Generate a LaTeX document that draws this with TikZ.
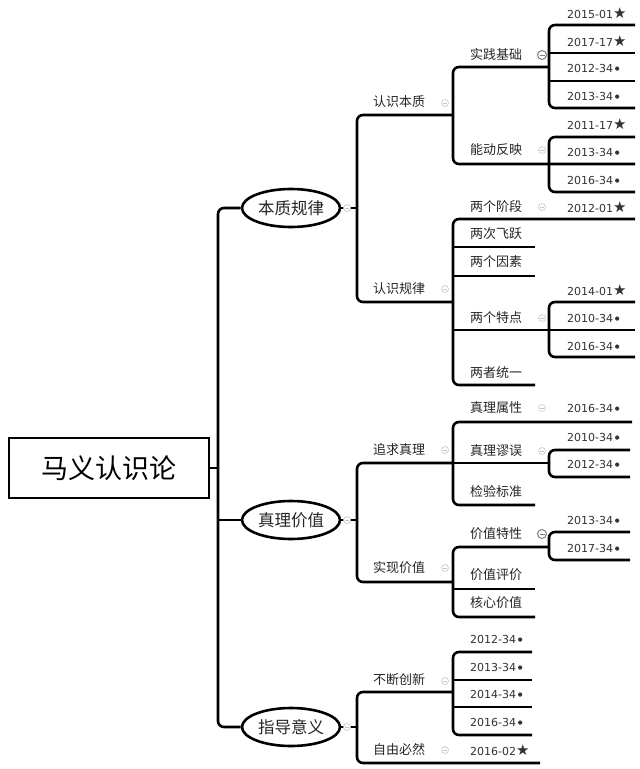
\documentclass[tikz,border=0pt]{standalone}
\usepackage{fontspec}
\setmainfont{DejaVu Sans}
\newfontfamily\cjk{Noto Sans CJK SC}
\newfontfamily\dtf{DejaVu Sans}
\usetikzlibrary{shapes.geometric}
\newcommand\mystar{{\fontsize{15}{15}\selectfont ★}}
\newcommand\mydot{\,\raisebox{1.8pt}{\fontsize{5.5}{6}\selectfont ●}}
\tikzset{
  ln/.style={line width=2.6pt, draw=black},
  rc/.style={rounded corners=6pt},
  lbl/.style={anchor=west, inner sep=0pt, font=\cjk\fontsize{13}{15}\selectfont, text=black!85},
  dlbl/.style={anchor=west, inner sep=0pt, font=\dtf\fontsize{11}{12}\selectfont, text=black!80},
  topic/.style={ellipse, draw, line width=2.6pt, minimum width=98pt, minimum height=38pt, inner sep=0pt, font=\cjk\fontsize{16.5}{18}\selectfont, text=black!85},
  fold/.style={circle, draw=gray!45, fill=white, line width=0.6pt, minimum size=7pt, inner sep=0pt,
    path picture={\draw[gray!45,line width=0.5pt] ([xshift=-2pt]path picture bounding box.center) -- ([xshift=2pt]path picture bounding box.center);}},
  folddark/.style={circle, draw=gray, fill=white, line width=1pt, minimum size=9pt, inner sep=0pt,
    path picture={\draw[gray,line width=0.7pt] ([xshift=-2.5pt]path picture bounding box.center) -- ([xshift=2.5pt]path picture bounding box.center);}}
}
\begin{document}
\begin{tikzpicture}[x=1pt,y=-1pt]
\useasboundingbox (0,0) rectangle (640,769);
\fill[white] (0,0) rectangle (640,769);

% root
\node[draw, line width=2.6pt, minimum width=200pt, minimum height=60pt, inner sep=0pt,
      font=\cjk\fontsize{27}{30}\selectfont] (root) at (109,468) {马义认识论};

% topics
\node[topic] (t1) at (291,208) {本质规律};
\node[topic] (t2) at (291,520) {真理价值};
\node[topic] (t3) at (291,727) {指导意义};

% trunk
\draw[ln] (root.east) -- (218,468);
\draw[ln,rc] (t1.west) -- (218,208) -- (218,727) -- (t3.west);
\draw[ln] (218,520) -- (t2.west);

% level 1 bars
\draw[ln] (t1.east) -- (357,208);
\draw[ln,rc] (453,115) -- (357,115) -- (357,302) -- (453,302);
\draw[ln] (t2.east) -- (357,520);
\draw[ln,rc] (453,463) -- (357,463) -- (357,582) -- (453,582);
\draw[ln] (t3.east) -- (357,727);
\draw[ln,rc] (453,692) -- (357,692) -- (357,763) -- (540,763);

% 认识本质
\draw[ln,rc] (549,67) -- (453,67) -- (453,164) -- (635,164);
\draw[ln,rc] (635,25) -- (549,25) -- (549,108) -- (635,108);
\draw[ln] (549,53) -- (635,53);
\draw[ln] (549,81) -- (635,81);
\draw[ln,rc] (635,137) -- (549,137) -- (549,192) -- (635,192);

% 认识规律
\draw[ln,rc] (635,219) -- (453,219) -- (453,385) -- (535,385);
\draw[ln] (453,247) -- (535,247);
\draw[ln] (453,276) -- (535,276);
\draw[ln] (453,330) -- (635,330);
\draw[ln,rc] (635,302) -- (549,302) -- (549,357) -- (635,357);

% 追求真理
\draw[ln,rc] (632,422) -- (453,422) -- (453,505) -- (535,505);
\draw[ln] (453,463) -- (549,463);
\draw[ln,rc] (630,450) -- (549,450) -- (549,477) -- (630,477);

% 实现价值
\draw[ln,rc] (549,547) -- (453,547) -- (453,617) -- (535,617);
\draw[ln] (453,589) -- (535,589);
\draw[ln,rc] (630,532) -- (549,532) -- (549,560) -- (630,560);

% 不断创新
\draw[ln,rc] (532,652) -- (453,652) -- (453,735) -- (532,735);
\draw[ln] (453,680) -- (532,680);
\draw[ln] (453,707) -- (532,707);

% text labels
\foreach \n/\x/\y/\t in {a1/373/102/认识本质, a2/373/289/认识规律, a3/373/450/追求真理,
  a4/373/568/实现价值, a5/373/680/不断创新, a6/373/750/自由必然,
  b1/470/54/实践基础, b2/470/150/能动反映, b3/470/207/两个阶段, b4/470/234/两次飞跃,
  b5/470/262/两个因素, b6/470/318/两个特点, b7/470/373/两者统一, b8/470/408/真理属性,
  b9/470/451/真理谬误, b10/470/492/检验标准, b11/470/534/价值特性, b12/470/575/价值评价,
  b13/470/603/核心价值}
  \node[lbl] (\n) at (\x,\y) {\t};

% date labels
\foreach \n/\x/\y/\t/\m in {d1/567/13/2015-01/\mystar, d2/567/41/2017-17/\mystar,
  d3/567/68/2012-34/\mydot, d4/567/96/2013-34/\mydot, d5/567/124/2011-17/\mystar,
  d6/567/152/2013-34/\mydot, d7/567/180/2016-34/\mydot, d8/567/207/2012-01/\mystar,
  d9/567/290/2014-01/\mystar, d10/567/318/2010-34/\mydot, d11/567/346/2016-34/\mydot,
  d12/567/408/2016-34/\mydot, d13/567/437/2010-34/\mydot, d14/567/464/2012-34/\mydot,
  d15/567/520/2013-34/\mydot, d16/567/548/2017-34/\mydot,
  d17/470/639/2012-34/\mydot, d18/470/667/2013-34/\mydot, d19/470/694/2014-34/\mydot,
  d20/470/722/2016-34/\mydot, d21/470/750/2016-02/\mystar}
  \node[dlbl] (\n) at (\x,\y) {\t\m};

% fold markers
\foreach \n/\x/\y in {f1/347/208, f2/347/520, f3/347/727, f4/445/103, f5/445/289,
  f6/445/450, f7/445/568, f8/445/681, f9/445/750, f10/542/150, f11/542/207,
  f12/542/318, f13/542/408, f14/542/451}
  \node[fold] (\n) at (\x,\y) {};
\node[folddark] (g1) at (542,55) {};
\node[folddark] (g2) at (542,534) {};
\end{tikzpicture}
\end{document}
